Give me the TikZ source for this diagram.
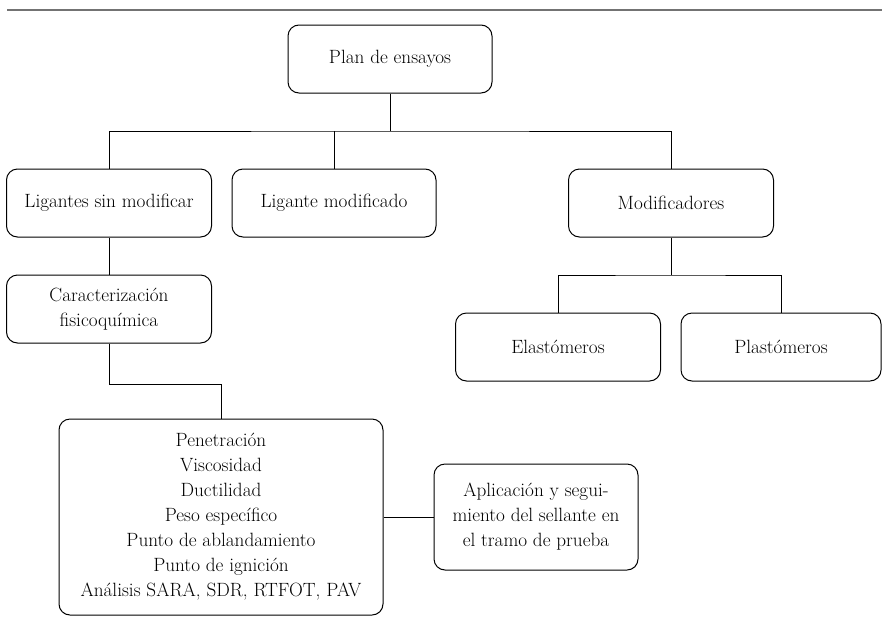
\documentclass[tikz,border=0pt]{standalone}
\usepackage{fontspec}
\begin{document}
\begin{tikzpicture}[x=1pt,y=-1pt,
  box/.style={draw=black, line width=1pt, rounded corners=11pt, align=center,
    font=\fontsize{19.2}{25}\selectfont, inner sep=0pt, minimum height=68pt},
  conn/.style={draw=black, line width=0.9pt}]
\useasboundingbox (0,0) rectangle (882,624);
\draw[line width=1.6pt, draw=black!55] (7,10) -- (882,10);
\node[box, minimum width=204pt] (plan) at (390,59) {Plan de ensayos};
\node[box, minimum width=205pt] (lsm) at (109,203) {Ligantes sin modificar};
\node[box, minimum width=204pt] (lmod) at (334,203) {Ligante modificado};
\node[box, minimum width=205pt] (mod) at (671,203) {Modificadores};
\node[box, minimum width=205pt] (car) at (109,309) {Caracterización\\fisicoquímica};
\node[box, minimum width=205pt] (elas) at (558,347) {Elastómeros};
\node[box, minimum width=200pt] (plas) at (781,347) {Plastómeros};
\node[box, minimum width=324pt, minimum height=196pt] (big) at (221,517)
  {Penetración\\Viscosidad\\Ductilidad\\Peso específico\\Punto de ablandamiento\\Punto de ignición\\Análisis SARA, SDR, RTFOT, PAV};
\node[box, minimum width=204pt, minimum height=106pt] (apl) at (536,517)
  {Aplicación y segui-\\miento del sellante en\\el tramo de prueba};
\coordinate (j1) at (390,131);
\coordinate (j2) at (671,275);
\coordinate (j3) at (109,384);
\draw[conn] (plan.south) -- (j1);
\draw[conn] (lsm.north) |- (j1) -| (mod.north);
\draw[conn] (lmod.north) -- (lmod.north |- j1);
\draw[conn] (mod.south) -- (j2);
\draw[conn] (elas.north) |- (j2) -| (plas.north);
\draw[conn] (lsm.south) -- (car.north);
\draw[conn] (car.south) -- (j3) -| (big.north);
\draw[conn] (big.east) -- (apl.west);
\end{tikzpicture}
\end{document}
